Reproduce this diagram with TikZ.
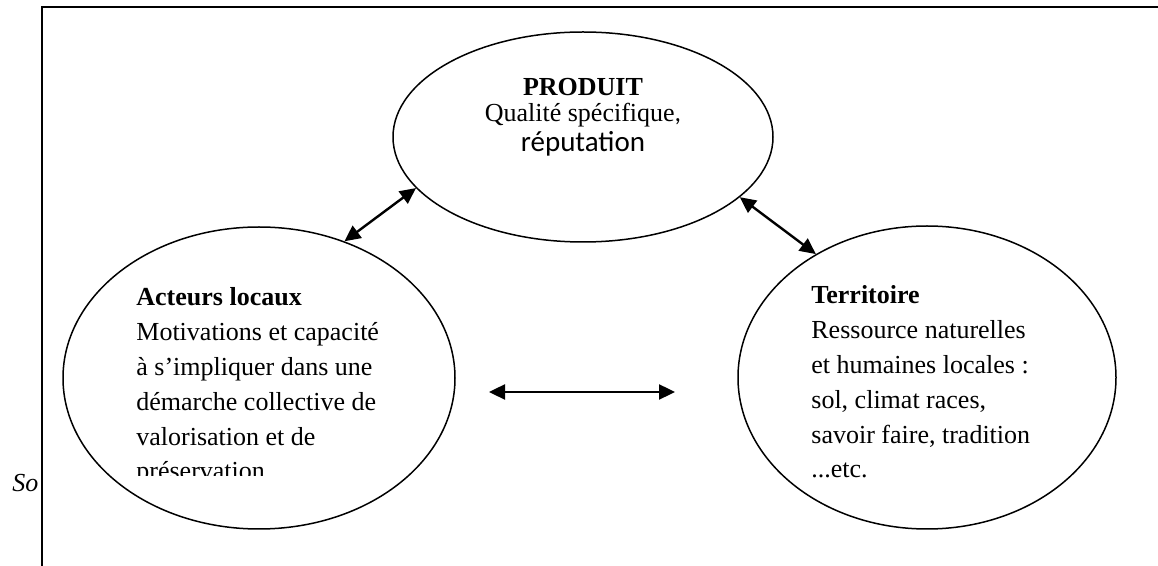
\documentclass[tikz,border=0pt]{standalone}
\usepackage{fontspec}
\setmainfont{Liberation Serif}
\newfontfamily\carlito{Carlito}
\usetikzlibrary{shapes.geometric,arrows.meta}
% centres of the three ellipses (pixel units)
\newcommand{\PRODX}{583}
\newcommand{\PRODY}{137}
\newcommand{\ACTX}{259}
\newcommand{\ACTY}{378}
\newcommand{\TERRX}{927}
\newcommand{\TERRY}{377.5}
\newcommand{\TXTSIZE}{\fontsize{13}{17.4}\selectfont}

\begin{document}
\begin{tikzpicture}[x=0.5pt,y=-0.5pt]
\tikzstyle{every node}=[font=\TXTSIZE,inner sep=0pt]
\tikzstyle{bulle}=[draw,ellipse,line width=0.75pt,fill=white]
\tikzstyle{dblarrow}=[line width=1.2pt,{Triangle[length=8pt,width=7.5pt]}-{Triangle[length=8pt,width=7.5pt]}]
\useasboundingbox (0,0) rectangle (1158,566);

% Source (hidden by the frame)
	\node[anchor=base west,font=\TXTSIZE\itshape] (sotxt) at (12,492) {So};

% Frame
	\fill[white] (42,7) rectangle (1158,566);
	\draw[line width=1pt] (42,566) -- (42,7) -- (1158,7);

% Ellipses
	\node[bulle,minimum width=190pt,minimum height=105pt] (produit) at ({\PRODX},{\PRODY}) {};
	\node[bulle,minimum width=196pt,minimum height=151pt] (acteurs) at ({\ACTX},{\ACTY}) {};
	\node[bulle,minimum width=189pt,minimum height=151.5pt] (territoire) at ({\TERRX},{\TERRY}) {};

% Texts (base anchor = last line)
	\node[anchor=base,align=center] (prodtxt) at ({\PRODX},152)
		{\textbf{PRODUIT}\\[-4.5pt]Qualité spécifique{\carlito ,}\\[-2pt]{\carlito\fontsize{14.5}{14.5}\selectfont réputation}};
	\begin{scope}
		\clip (100,200) rectangle (460,476);
		\node[anchor=base west,align=left] (acttxt) at (136,480)
			{\textbf{Acteurs locaux}\\Motivations et capacité\\à s’impliquer dans une\\démarche collective de\\valorisation et de\\préservation};
	\end{scope}
	\node[anchor=base west,align=left] (terrtxt) at (811,478)
		{\textbf{Territoire}\\Ressource naturelles\\et humaines locales :\\sol, climat races,\\savoir faire, tradition\\...etc.};

% Arrows
	\coordinate (midl) at (489,392);
	\coordinate (midr) at (675,392);
	\draw[dblarrow] (acteurs.58.6) -- (produit.197.5);
	\draw[dblarrow] (produit.339.9) -- (territoire.132.6);
	\draw[dblarrow] (midl) -- (midr);

\end{tikzpicture}
\end{document}
